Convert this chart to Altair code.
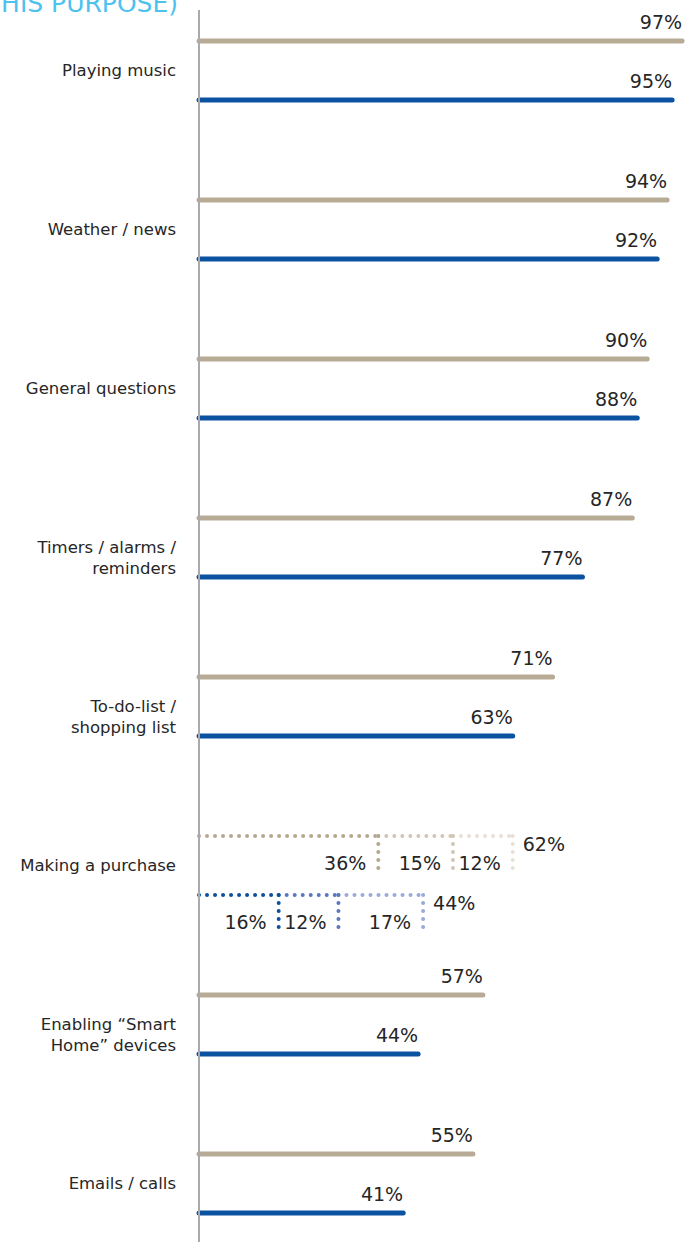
import altair as alt
import pandas as pd

# ---- data ----
categories = [
    "Playing music",
    "Weather / news",
    "General questions",
    "Timers / alarms /\nreminders",
    "To-do-list /\nshopping list",
    "Making a purchase",
    "Enabling “Smart\nHome” devices",
    "Emails / calls",
]
tan_values = [97, 94, 90, 87, 71, 62, 57, 55]
blue_values = [95, 92, 88, 77, 63, 44, 44, 41]
purchase_row = "Making a purchase"
purchase_tan_parts = [36, 15, 12]
purchase_blue_parts = [16, 12, 17]

TAN = "#b8ab96"
BLUE = "#0b52a1"
tan_shades = ["#b5a890", "#cfc6b6", "#e6e0d7"]
blue_shades = ["#0b4fa0", "#5a78bf", "#9aaad9"]
OFF = 0.1855          # half-gap between the two bars of a row (in row units)
FONT = "DejaVu Sans"
TXT = "#262626"

rows = []
for i, c in enumerate(categories):
    rows.append({"row": i, "cat": c, "series": "tan", "value": tan_values[i], "off": -OFF})
    rows.append({"row": i, "cat": c, "series": "blue", "value": blue_values[i], "off": OFF})
df = pd.DataFrame(rows)
df["pos"] = df["row"] + df["off"]
df["start"] = 0
df["label"] = df["value"].astype(str) + "%"
df["color"] = df["series"].map({"tan": TAN, "blue": BLUE})

solid = df[df["cat"] != purchase_row]
dotted_tot = df[df["cat"] == purchase_row]

pidx = categories.index(purchase_row)
segs = []
for series, parts, shades, off in [("tan", purchase_tan_parts, tan_shades, -OFF),
                                   ("blue", purchase_blue_parts, blue_shades, OFF)]:
    cum = 0
    for p, col in zip(parts, shades):
        segs.append({"series": series, "start": cum, "end": cum + p, "part": f"{p}%",
                     "color": col, "pos": pidx + off, "pos2": pidx + off + 0.22})
        cum += p
seg = pd.DataFrame(segs)
seg_tot = seg.groupby("series", as_index=False)["end"].max()
dotted_tot = dotted_tot.merge(seg_tot, on="series")

cats_df = pd.DataFrame({"cat": categories, "row": list(range(len(categories)))})

xs = alt.Scale(domain=[0, 100], range=[199, 697])
ys = alt.Scale(domain=[0, 7], range=[70.5, 1183.5], zero=False, nice=False)
X = lambda f: alt.X(f, scale=xs, axis=None)
Y = lambda f: alt.Y(f, scale=ys, axis=None)

bars = alt.Chart(solid).mark_rule(strokeWidth=5, strokeCap="round").encode(
    x=X("start:Q"), x2="value:Q", y=Y("pos:Q"),
    color=alt.Color("color:N", scale=None))

bar_labels = alt.Chart(solid).mark_text(
    align="right", baseline="alphabetic", dy=-12, fontSize=19, font=FONT, color=TXT
).encode(x=X("value:Q"), y=Y("pos:Q"), text="label:N")

dots_h = alt.Chart(seg).mark_rule(strokeWidth=4, strokeCap="round", strokeDash=[0.01, 8]).encode(
    x=X("start:Q"), x2="end:Q", y=Y("pos:Q"), color=alt.Color("color:N", scale=None))

dots_v = alt.Chart(seg).mark_rule(strokeWidth=4, strokeCap="round", strokeDash=[0.01, 8]).encode(
    x=X("end:Q"), y=Y("pos:Q"), y2="pos2:Q", color=alt.Color("color:N", scale=None))

seg_labels = alt.Chart(seg).mark_text(
    align="right", baseline="alphabetic", dx=-12, dy=34, fontSize=19, font=FONT, color=TXT
).encode(x=X("end:Q"), y=Y("pos:Q"), text="part:N")

tot_labels = alt.Chart(dotted_tot).mark_text(
    align="left", baseline="alphabetic", dx=10, dy=15, fontSize=19, font=FONT, color=TXT
).encode(x=X("end:Q"), y=Y("pos:Q"), text="label:N")

cat_labels = alt.Chart(cats_df).mark_text(
    align="right", baseline="middle", dx=-23, fontSize=16.5, font=FONT, color=TXT,
    lineBreak="\n", lineHeight=21
).encode(x=alt.X("z:Q", scale=xs, axis=None), y=Y("row:Q"), text="cat:N").transform_calculate(z="0")

axis_line = alt.Chart(cats_df).mark_rule(strokeWidth=2, color="#a9a9ae").encode(
    x=alt.X("z:Q", scale=xs, axis=None), y=alt.value(10), y2=alt.value(1242)
).transform_calculate(z="0")

title_txt = alt.Chart(pd.DataFrame({"t": ["(% OF USERS WHO USE IT FOR THIS PURPOSE)"]})).mark_text(
    align="right", baseline="alphabetic", fontSize=25, font=FONT, color="#4cc2ee"
).encode(x=alt.value(178), y=alt.value(12), text="t:N")

chart = alt.layer(
    bars, dots_h, dots_v, bar_labels, seg_labels, tot_labels, cat_labels, axis_line, title_txt
).properties(
    width=697, height=1242, padding=0, autosize=alt.AutoSizeParams(type="none")
).configure_view(stroke=None)

chart.save("out.html", embed_options={"renderer": "svg", "actions": False})
